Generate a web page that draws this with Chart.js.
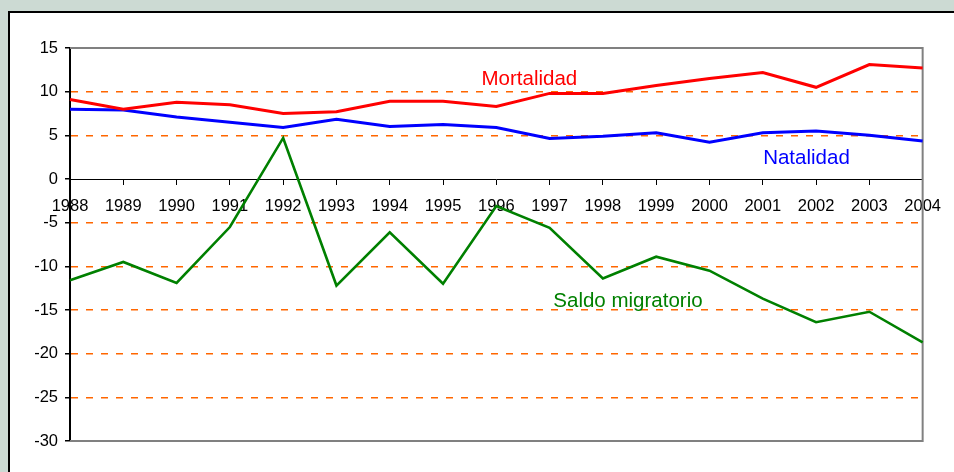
<!DOCTYPE html>
<html>
<head>
<meta charset="utf-8">
<script src="https://cdn.jsdelivr.net/npm/chart.js@4/dist/chart.umd.min.js"></script>
<style>
  html, body { margin: 0; padding: 0; }
  body { width: 954px; height: 472px; background: #ccdad3; position: relative; overflow: hidden; }
  #panel {
    position: absolute; left: 8px; top: 11px; width: 960px; height: 480px;
    background: #fff; border-left: 2px solid #000; border-top: 2px solid #000;
  }
  #wrap { position: absolute; left: 0; top: 0; width: 954px; height: 472px; }
</style>
</head>
<body>
<div id="panel"></div>
<div id="wrap"><canvas id="chart"></canvas></div>
<script>
// ── Data ───────────────────────────────────────────────
const YEARS = ['1988', '1989', '1990', '1991', '1992', '1993', '1994', '1995', '1996',
               '1997', '1998', '1999', '2000', '2001', '2002', '2003', '2004'];
const MORTALIDAD = [9.1, 8.0, 8.8, 8.5, 7.5, 7.7, 8.9, 8.9, 8.3, 9.8, 9.8, 10.7, 11.5, 12.2, 10.5, 13.1, 12.7];
const NATALIDAD  = [8.0, 7.9, 7.1, 6.5, 5.9, 6.85, 6.0, 6.25, 5.9, 4.65, 4.9, 5.3, 4.2, 5.3, 5.5, 5.0, 4.35];
const SALDO      = [-11.6, -9.5, -11.9, -5.5, 4.7, -12.2, -6.1, -12.0, -3.1, -5.6, -11.4, -8.9, -10.5, -13.7, -16.4, -15.2, -18.7];

// series captions: [text, x index, y value at baseline, colour]
const CAPTIONS = [
  ['Mortalidad',       8.62, 10.75, '#ff0000'],
  ['Natalidad',        13.82, 1.75, '#0000ff'],
  ['Saldo migratorio', 10.47, -14.65, '#008000'],
];

const FONT = "'Liberation Sans', Arial, sans-serif";
const NO_GRID = [15, 0, -30]; // covered by the frame / zero axis

// ── Plugins ────────────────────────────────────────────
const _framePlugin = {
  id: 'frame',
  beforeDatasetsDraw(chart) {
    const { ctx, chartArea: a } = chart;
    ctx.save();
    ctx.strokeStyle = '#808080';
    ctx.lineWidth = 2;
    ctx.beginPath();
    ctx.moveTo(a.left, a.top);
    ctx.lineTo(a.right, a.top);
    ctx.lineTo(a.right, a.bottom);
    ctx.lineTo(a.left, a.bottom);
    ctx.stroke();
    ctx.restore();
  },
};

const _captionPlugin = {
  id: 'captions',
  afterDatasetsDraw(chart) {
    const { ctx, scales: { x, y } } = chart;
    ctx.save();
    ctx.font = `20.5px ${FONT}`;
    ctx.textAlign = 'center';
    ctx.textBaseline = 'alphabetic';
    for (const [text, xi, yv, color] of CAPTIONS) {
      ctx.fillStyle = color;
      ctx.fillText(text, x.getPixelForValue(xi), y.getPixelForValue(yv));
    }
    ctx.restore();
  },
};

const _line = (label, data, color, width) => ({
  label, data,
  borderColor: color,
  borderWidth: width,
  pointRadius: 0,
  tension: 0,
  fill: false,
});

new Chart(document.getElementById('chart'), {
  type: 'line',
  data: {
    labels: YEARS,
    datasets: [
      _line('Mortalidad', MORTALIDAD, '#ff0000', 3),
      _line('Natalidad', NATALIDAD, '#0000ff', 3),
      _line('Saldo migratorio', SALDO, '#008000', 2.6),
    ],
  },
  options: {
    animation: false,
    responsive: true,
    maintainAspectRatio: false,
    layout: { padding: { left: 0, top: 48, right: 30, bottom: 31 } },
    plugins: { legend: { display: false }, tooltip: { enabled: false } },
    scales: {
      x: {
        type: 'category',
        offset: false,
        position: { y: 0 },
        afterFit: s => { s.height = 0; },
        grid: { drawOnChartArea: false, drawTicks: true, tickLength: 5, color: '#000', lineWidth: 1 },
        border: { color: '#000', width: 1 },
        ticks: { color: '#000', font: { family: FONT, size: 16.5 }, padding: 13, maxRotation: 0, autoSkip: false },
      },
      y: {
        min: -30, max: 15,
        afterFit: s => { s.width = 70; },
        ticks: { stepSize: 5, color: '#000', font: { family: FONT, size: 16.5 }, padding: 7 },
        grid: {
          color: c => (NO_GRID.includes(c.tick?.value) ? 'rgba(0,0,0,0)' : '#ff6600'),
          tickColor: '#000',
          tickLength: 5,
          lineWidth: 1.5,
        },
        border: { color: '#000', width: 2, dash: [7, 8] },
      },
    },
  },
  plugins: [_framePlugin, _captionPlugin],
});
</script>
</body>
</html>
